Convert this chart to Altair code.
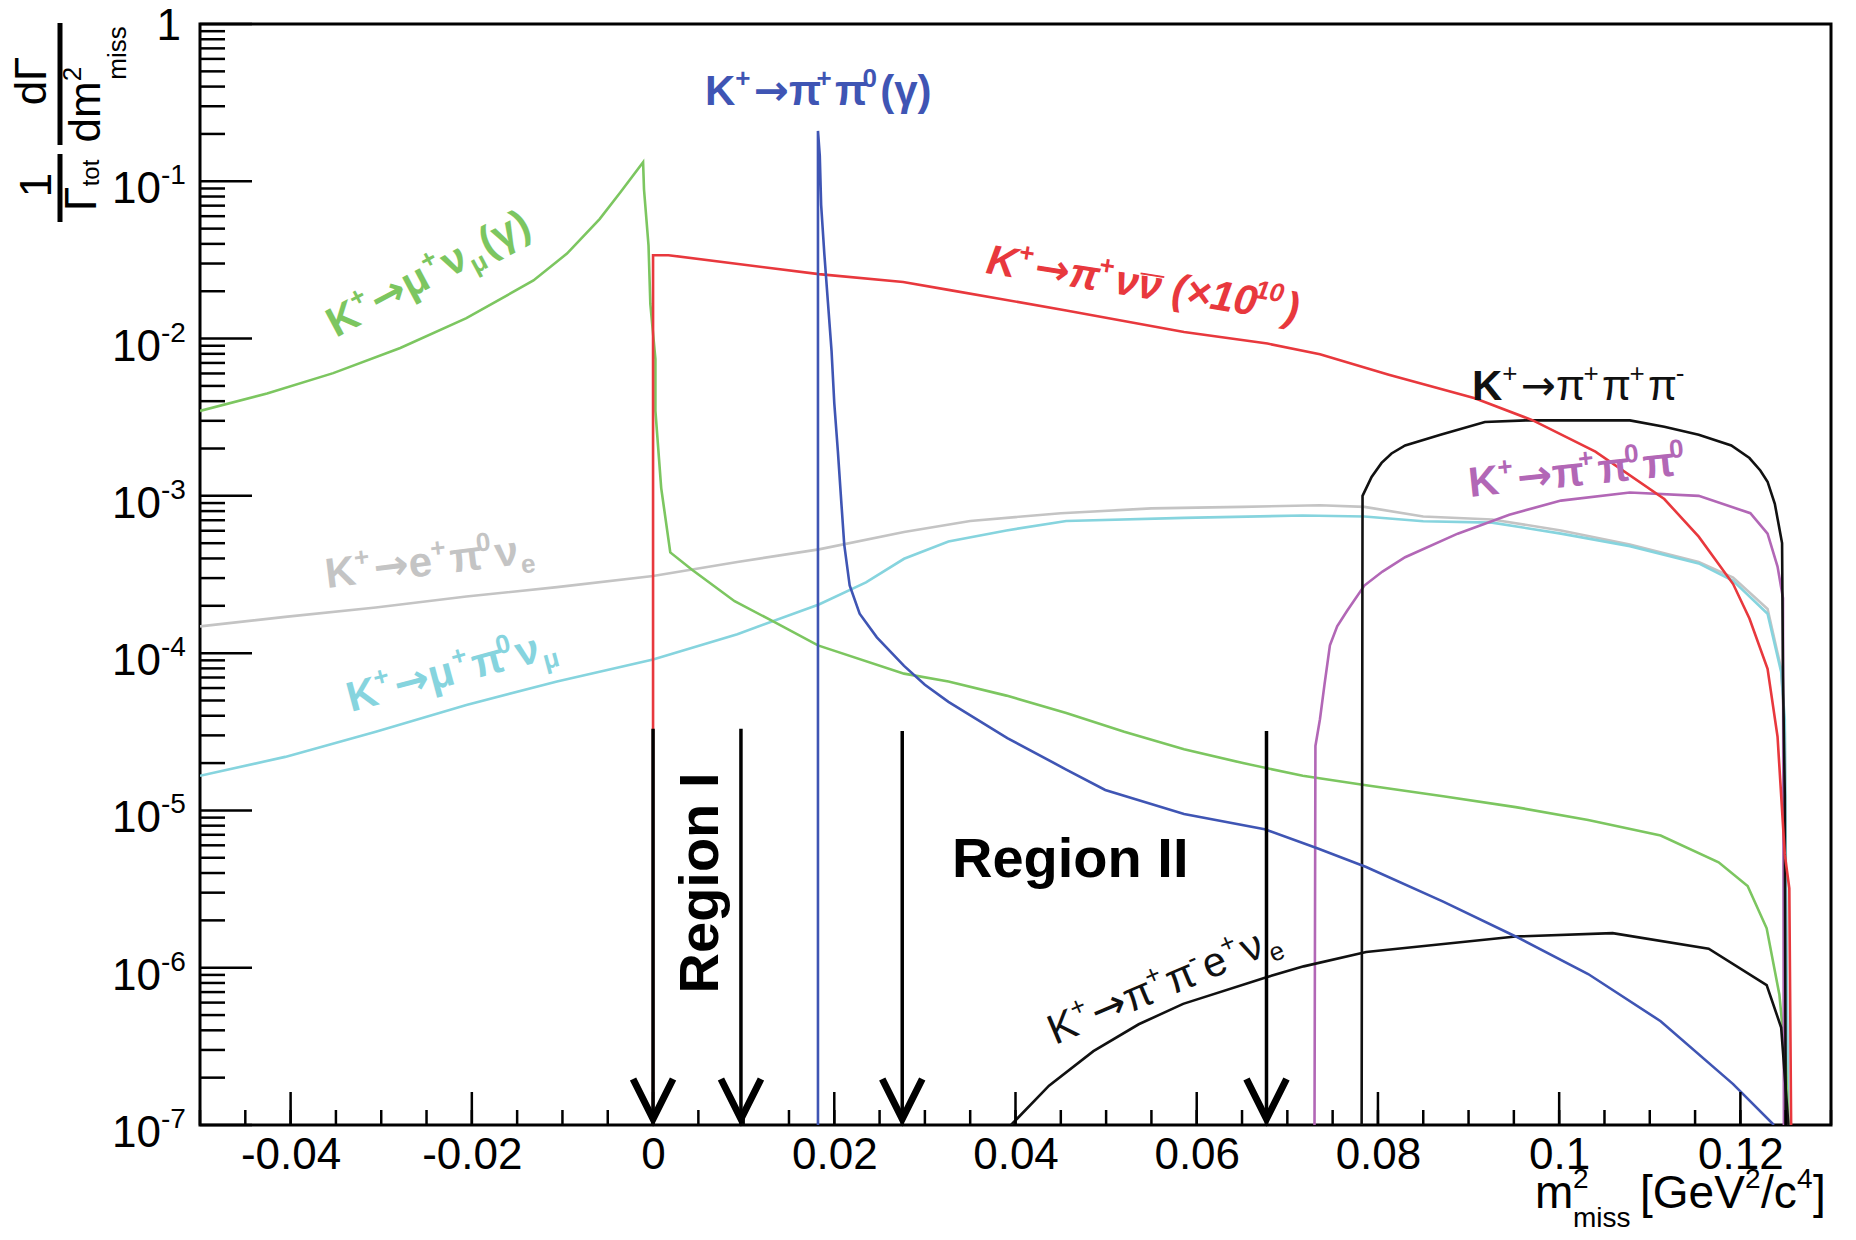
import math
import altair as alt
import pandas as pd

FONT = "Liberation Sans"
AFONT = "DejaVu Sans"      # for the arrows
W, H = 1631, 1101          # plot area
OX, OY = 200, 24           # plot origin on the page

GREEN = "#7cc660"
RED = "#e8383d"
BLUE = "#3f55b4"
CYAN = "#86d4de"
GRAY = "#c4c4c4"
MAGENTA = "#b267b6"
BLACK = "#111111"

# ---------------- data ----------------
KMU2_X = [-0.05, -0.0426, -0.0353, -0.0279, -0.0206, -0.0132, -0.0095, -0.0059, -0.0036, -0.0011,
          -0.001, -0.0005, -0.0003, 0.00026, 0.00026, 0.0009, 0.0019, 0.0043, 0.009, 0.013, 0.0182,
          0.0277, 0.0326, 0.039, 0.0456, 0.052, 0.0586, 0.0651, 0.0717, 0.0785, 0.0872,
          0.0952, 0.1032, 0.1112, 0.1176, 0.1208, 0.1229, 0.1243, 0.125, 0.1253]
KMU2_Y = [3.47e-3, 4.47e-3, 6.03e-3, 8.71e-3, 1.35e-2, 2.34e-2, 3.47e-2, 5.75e-2, 8.51e-2, 0.132,
          0.089, 0.039, 0.0166, 7.4e-3, 3.47e-3, 1.12e-3, 4.37e-4, 3.39e-4, 2.14e-4, 1.62e-4, 1.12e-4,
          7.41e-5, 6.61e-5, 5.37e-5, 4.17e-5, 3.16e-5, 2.45e-5, 2.0e-5, 1.66e-5, 1.45e-5, 1.23e-5,
          1.05e-5, 8.7e-6, 6.92e-6, 4.68e-6, 3.31e-6, 1.78e-6, 6.76e-7, 2.57e-7, 1e-7]

PINN_X = [0, 0, 0.0017, 0.0183, 0.0276, 0.0326, 0.0456, 0.0586, 0.0678, 0.0736, 0.0812, 0.0907,
          0.0971, 0.104, 0.1116, 0.1154, 0.1192, 0.121, 0.123, 0.1241, 0.1249, 0.1254, 0.1256]
PINN_Y = [1e-7, 0.0339, 0.0339, 0.0257, 0.0229, 0.0204, 0.0151, 0.011, 0.0093, 0.00794, 0.00589, 0.00417,
          0.00302, 0.00191, 0.000955, 0.00055, 0.000275, 0.000166, 7.94e-5, 2.95e-5, 5.25e-6, 3.2e-6, 1e-7]

K2PI_X = [0.0182, 0.0182, 0.0184, 0.01855, 0.0189, 0.0193, 0.0197, 0.02, 0.0204, 0.0208, 0.0211,
          0.0217, 0.0228, 0.0247, 0.0277, 0.03, 0.0326, 0.0391, 0.0456, 0.0499, 0.0586, 0.0675, 0.0733,
          0.0787, 0.0872, 0.0952, 0.1032, 0.1112, 0.1192, 0.1237]
K2PI_Y = [1e-7, 0.209, 0.145, 0.0708, 0.0347, 0.017, 0.00832, 0.00389, 0.00191, 0.000871, 0.00049,
          0.000269, 0.000178, 0.000126, 8.3e-5, 6.3e-5, 4.9e-5, 2.88e-5, 1.82e-5, 1.35e-5, 9.5e-6, 7.59e-6, 5.75e-6,
          4.37e-6, 2.63e-6, 1.58e-6, 9.12e-7, 4.57e-7, 1.82e-7, 1e-7]

KMU3_X = [-0.05, -0.0406, -0.0306, -0.0206, -0.0106, 0, 0.0093, 0.0183, 0.0235, 0.0277, 0.0326, 0.039,
          0.0456, 0.0586, 0.0717, 0.0785, 0.085, 0.0926, 0.1002, 0.1078, 0.1154, 0.1192, 0.123,
          0.1245, 0.1249, 0.1251, 0.1253]
KMU3_Y = [1.66e-5, 2.19e-5, 3.16e-5, 4.68e-5, 6.61e-5, 9.12e-5, 1.32e-4, 2.04e-4, 2.82e-4, 3.98e-4, 5.13e-4, 6.03e-4,
          6.92e-4, 7.24e-4, 7.5e-4, 7.4e-4, 6.9e-4, 6.76e-4, 5.75e-4, 4.79e-4, 3.72e-4, 2.88e-4, 1.78e-4,
          7.59e-5, 3.8e-5, 1e-6, 1e-7]

KE3_X = [-0.05, -0.0406, -0.0306, -0.0206, -0.0106, 0, 0.0093, 0.0183, 0.0277, 0.035, 0.045, 0.055,
         0.065, 0.0736, 0.0785, 0.085, 0.0926, 0.1002, 0.1078, 0.1154, 0.1192, 0.123, 0.1245, 0.1249, 0.1252]
KE3_Y = [1.48e-4, 1.7e-4, 1.95e-4, 2.29e-4, 2.63e-4, 3.09e-4, 3.8e-4, 4.57e-4, 5.89e-4, 6.92e-4, 7.76e-4, 8.32e-4,
         8.51e-4, 8.71e-4, 8.51e-4, 7.4e-4, 7.08e-4, 6.03e-4, 4.9e-4, 3.8e-4, 3.02e-4, 1.91e-4, 7.94e-5, 3.16e-5, 1e-7]

K3PI_X = [0.0782, 0.0783, 0.0793, 0.0804, 0.0815, 0.083, 0.0869, 0.0918, 0.0964, 0.1078, 0.1116, 0.1154,
          0.119, 0.121, 0.1222, 0.123, 0.1238, 0.1246, 0.1247, 0.1249, 0.125]
K3PI_Y = [1e-7, 1e-3, 1.32e-3, 1.62e-3, 1.86e-3, 2.09e-3, 2.45e-3, 2.95e-3, 3.02e-3, 3.02e-3, 2.75e-3, 2.45e-3,
          2.09e-3, 1.74e-3, 1.45e-3, 1.23e-3, 8.9e-4, 5.01e-4, 7.2e-5, 1.26e-5, 1e-7]

K3PI0_X = [0.073, 0.0731, 0.0736, 0.0741, 0.0747, 0.0755, 0.0766, 0.0785, 0.0805, 0.083, 0.0888, 0.0945,
           0.1002, 0.1078, 0.1154, 0.1211, 0.123, 0.1241, 0.1247, 0.1248]
K3PI0_Y = [1e-7, 2.57e-5, 3.8e-5, 6.3e-5, 1.12e-4, 1.48e-4, 1.86e-4, 2.69e-4, 3.3e-4, 4.07e-4, 5.75e-4, 7.59e-4,
           9.33e-4, 1.05e-3, 1.0e-3, 7.76e-4, 5.75e-4, 3.55e-4, 2.24e-4, 1e-7]

KE4_X = [0.0395, 0.0402, 0.0437, 0.0486, 0.0536, 0.0585, 0.0677, 0.0718, 0.0787, 0.0952, 0.1059, 0.1165,
         0.1229, 0.1245, 0.1253]
KE4_Y = [1e-7, 1.1e-7, 1.78e-7, 2.95e-7, 4.37e-7, 5.89e-7, 8.71e-7, 1.02e-6, 1.26e-6, 1.58e-6, 1.66e-6, 1.32e-6,
         7.76e-7, 4.17e-7, 1e-7]

ARROW_X = [0, 0.0097, 0.0275, 0.0677]
ARROW_TOP = [3.3e-5, 3.3e-5, 3.2e-5, 3.2e-5]
ARROW_BOTTOM = [1e-7, 1e-7, 1e-7, 1e-7]

XLAB_VALUES = [-0.04, -0.02, 0, 0.02, 0.04, 0.06, 0.08, 0.1, 0.12]
YLAB_VALUES = [1e-1, 1e-2, 1e-3, 1e-4, 1e-5, 1e-6, 1e-7]
YLAB_BASE = ["10"] * 7
YLAB_EXP = ["-1", "-2", "-3", "-4", "-5", "-6", "-7"]

# ---------------- scales / axes ----------------
xs = alt.Scale(domain=[-0.05, 0.13], nice=False, zero=False)
ys = alt.Scale(type="log", domain=[1e-7, 1], nice=False)
XAX = alt.Axis(values=XLAB_VALUES, labelExpr="replace(format(datum.value, '.2~f'), '\u2212', '-')",
               ticks=False, domain=False, grid=False, labelFontSize=44, labelFont=FONT,
               labelColor="black", labelPadding=8, labelFlush=False, labelOverlap=False, title=None)

series = [
    ("Ke3", KE3_X, KE3_Y, GRAY),
    ("Kmu3", KMU3_X, KMU3_Y, CYAN),
    ("Kmu2", KMU2_X, KMU2_Y, GREEN),
    ("K3pi0", K3PI0_X, K3PI0_Y, MAGENTA),
    ("K3pi", K3PI_X, K3PI_Y, BLACK),
    ("Ke4", KE4_X, KE4_Y, BLACK),
    ("Kpinn", PINN_X, PINN_Y, RED),
    ("K2pi", K2PI_X, K2PI_Y, BLUE),
]
rows = []
for name, sx, sy, _ in series:
    for i, (a, b) in enumerate(zip(sx, sy)):
        rows.append({"s": name, "x": a, "y": b, "i": i})
df = pd.DataFrame(rows)

lines = alt.Chart(df).mark_line(strokeWidth=2.6, clip=True).encode(
    x=alt.X("x:Q", scale=xs, axis=XAX),
    y=alt.Y("y:Q", scale=ys, axis=None),
    color=alt.Color("s:N", scale=alt.Scale(domain=[s[0] for s in series], range=[s[3] for s in series]),
                    legend=None),
    detail="s:N",
    order="i:Q",
)

# ---------------- ticks (inside the frame) ----------------
xmaj = [v for v in XLAB_VALUES]
xmin = [round(-0.05 + 0.005 * k, 4) for k in range(37)]
ymaj = [1.0] + YLAB_VALUES
ymin = [m * 10.0 ** e for e in range(-7, 0) for m in range(2, 10)]

def xticks(vals, ln):
    return alt.Chart(pd.DataFrame({"x": vals})).mark_rule(color="black", strokeWidth=2.5).encode(
        x=alt.X("x:Q", scale=xs, axis=XAX), y=alt.value(H), y2=alt.value(H - ln))

def yticks(vals, ln):
    return alt.Chart(pd.DataFrame({"y": vals})).mark_rule(color="black", strokeWidth=2.5).encode(
        y=alt.Y("y:Q", scale=ys, axis=None), x=alt.value(0), x2=alt.value(ln))

ticks = [xticks(xmin, 15), xticks(xmaj, 33), yticks(ymin, 25), yticks(ymaj, 52)]

# y tick labels 10^-k
ylab_df = pd.DataFrame({"y": YLAB_VALUES, "b": YLAB_BASE, "e": YLAB_EXP})
ylab_base = alt.Chart(ylab_df).mark_text(align="right", baseline="middle", fontSize=44, font=FONT,
                                         color="black", dy=9).encode(
    y=alt.Y("y:Q", scale=ys, axis=None), x=alt.value(161 - OX), text="b:N")
ylab_exp = alt.Chart(ylab_df).mark_text(align="left", baseline="middle", fontSize=28, font=FONT,
                                        color="black", dy=-5).encode(
    y=alt.Y("y:Q", scale=ys, axis=None), x=alt.value(161 - OX), text="e:N")

# arrows
arr_df = pd.DataFrame({"x": ARROW_X, "top": ARROW_TOP, "bot": ARROW_BOTTOM})
arrow_lines = alt.Chart(arr_df).mark_rule(color="black", strokeWidth=3.5).encode(
    x=alt.X("x:Q", scale=xs, axis=XAX), y=alt.Y("top:Q", scale=ys, axis=None), y2="bot:Q")
arrow_heads = alt.Chart(arr_df).mark_point(shape="M -1 -2.3 L 0 -0.3 L 1 -2.3", size=1600, filled=False,
                                           color="black", strokeWidth=7, opacity=1,
                                           strokeJoin="miter", strokeCap="butt").encode(
    x=alt.X("x:Q", scale=xs, axis=XAX), y=alt.Y("bot:Q", scale=ys, axis=None))

# ---------------- text helpers ----------------
ONE = pd.DataFrame({"k": [0]})

def txt(s, x, y, size, color="black", ang=0, weight="normal", style="normal", align="left",
        baseline="alphabetic", font=FONT):
    return alt.Chart(ONE).mark_text(text=s, font=font, fontSize=round(size, 1), color=color,
                                    angle=ang % 360, fontWeight=weight, fontStyle=style,
                                    align=align, baseline=baseline).encode(
        x=alt.value(round(x - OX, 1)), y=alt.value(round(y - OY, 1)))

WID = {"K": .667, "e": .556, " ": .278, "(": .333, ")": .333, "+": .584, "-": .333, "\u00d7": .5,
       "\u2192": .838, "\u03c0": .66, "\u03bc": .64, "\u03bd": .58, "\u03b3": .58, "\u00af": 0.0}

def seg_w(s, size, bold):
    w = 0.0
    for c in s:
        w += WID.get(c, .556)
        if bold and c == "K":
            w += .055
    return w * size

def label(x0, y0, ang, size, color, segs, weight="bold", style="normal"):
    th = math.radians(ang)
    ux, uy = math.cos(th), math.sin(th)
    nx, ny = math.sin(th), -math.cos(th)
    out, adv = [], 0.0
    for seg in segs:
        s, kind = seg[0], seg[1]
        if kind == "sp":             # blank advance
            adv += seg[2] * size
            continue
        wgt = seg[2] if len(seg) > 2 else weight
        font = AFONT if s == "\u2192" else FONT
        extra = 0.0
        if kind == "n":
            fs, sh = size, 0.0
        elif kind == "sup":
            fs, sh = size * 0.62, size * 0.42
            extra = 0.12 * fs
        elif kind == "over":         # bar over the previous glyph (no advance)
            fs, sh = size, -size * 0.16
        else:
            fs, sh = size * 0.62, -size * 0.22
            extra = 0.08 * fs
        if kind == "over":
            back = seg_w(seg[2], size, False)
            px = x0 + (adv - back) * ux + sh * nx
            py = y0 + (adv - back) * uy + sh * ny
            out.append(txt("\u00af", px, py, fs, color, ang, "normal", "normal", font=FONT))
            continue
        out.append(txt(s, x0 + adv * ux + sh * nx, y0 + adv * uy + sh * ny, fs, color, ang, wgt, style,
                       font=font))
        adv += seg_w(s, fs, wgt == "bold") + extra
    return out

AR = "\u2192"
texts = []
# curve labels
texts += label(705, 105, 0, 42, BLUE, [("K", "n"), ("+", "sup"), (AR, "n"), ("\u03c0", "n"), ("+", "sup"),
                                       ("\u03c0", "n"), ("0", "sup"), ("(\u03b3)", "n")])
texts += label(985, 273, 9, 42, RED, [("K", "n"), ("+", "sup"), (AR, "n"), ("\u03c0", "n"), ("+", "sup"),
                                      ("\u03bd\u03bd", "n"), ("\u00af", "over", "\u03bd"), ("", "sp", 0.22),
                                      ("(\u00d710", "n"), ("10", "sup"), (")", "n")],
               style="italic")
texts += label(336, 338, -28, 42, GREEN, [("K", "n"), ("+", "sup"), (AR, "n"), ("\u03bc", "n"), ("+", "sup"),
                                         ("\u03bd", "n"), ("\u03bc", "sub"), ("(\u03b3)", "n")])
texts += label(1472, 400, 0, 42, BLACK, [("K", "n", "bold"), ("+", "sup"), (AR, "n"), ("\u03c0", "n"),
                                        ("+", "sup"), ("\u03c0", "n"), ("+", "sup"), ("\u03c0", "n"), ("-", "sup")],
               weight="normal")
texts += label(1470, 497, -6, 42, MAGENTA, [("K", "n"), ("+", "sup"), (AR, "n"), ("\u03c0", "n"), ("+", "sup"),
                                           ("\u03c0", "n"), ("0", "sup"), ("\u03c0", "n"), ("0", "sup")])
texts += label(327, 588, -7, 42, GRAY, [("K", "n"), ("+", "sup"), (AR, "n"), ("e", "n"), ("+", "sup"),
                                       ("\u03c0", "n"), ("0", "sup"), ("\u03bd", "n"), ("e", "sub")])
texts += label(351, 712, -15, 42, CYAN, [("K", "n"), ("+", "sup"), (AR, "n"), ("\u03bc", "n"), ("+", "sup"),
                                        ("\u03c0", "n"), ("0", "sup"), ("\u03bd", "n"), ("\u03bc", "sub")])
texts += label(1055, 1045, -23, 42, BLACK, [("K", "n"), ("+", "sup"), (AR, "n"), ("\u03c0", "n"), ("+", "sup"),
                                           ("\u03c0", "n"), ("-", "sup"), ("e", "n"), ("+", "sup"), ("\u03bd", "n"),
                                           ("e", "sub")], weight="normal")
# regions
texts.append(txt("Region I", 701, 883, 56, "black", 270, "bold", align="center", baseline="middle"))
texts.append(txt("Region II", 952, 877, 56, "black", 0, "bold"))
# top y label "1"
texts.append(txt("1", 181, 27, 44, "black", 0, align="right", baseline="middle"))
# x axis title
texts += [txt("m", 1535, 1208, 46), txt("2", 1573, 1188, 28), txt("miss", 1573, 1227, 28),
          txt("[GeV", 1640, 1208, 46), txt("2", 1745, 1188, 28), txt("/c", 1761, 1208, 46),
          txt("4", 1797, 1188, 28), txt("]", 1813, 1208, 46)]
# y axis title (rotated fraction)
yt = dict(ang=270, align="center", baseline="middle")
texts += [txt("d\u0393", 33, 81, 44, **yt), txt("dm", 87, 112, 44, **yt), txt("2", 73, 74, 26, **yt),
          txt("miss", 118, 53, 26, **yt), txt("1", 38, 185, 44, **yt), txt("\u0393", 83, 199, 44, **yt),
          txt("tot", 92, 173, 24, **yt)]
bars = [alt.Chart(ONE).mark_rule(color="black", strokeWidth=5).encode(
            x=alt.value(60 - OX), y=alt.value(23 - OY), y2=alt.value(145 - OY)),
        alt.Chart(ONE).mark_rule(color="black", strokeWidth=5).encode(
            x=alt.value(60 - OX), y=alt.value(154 - OY), y2=alt.value(222 - OY))]

chart = alt.layer(lines, *ticks, arrow_lines, arrow_heads, ylab_base, ylab_exp, *bars, *texts).properties(
    width=W, height=H,
    padding={"left": OX - 8, "top": OY - 8, "right": 1856 - 8 - OX - W, "bottom": 1240 - 8 - OY - H},
    autosize=alt.AutoSizeParams(type="none"),
    background="white",
).configure_view(stroke="black", strokeWidth=3)

chart.save("out.html", embed_options={"renderer": "svg", "actions": False})
